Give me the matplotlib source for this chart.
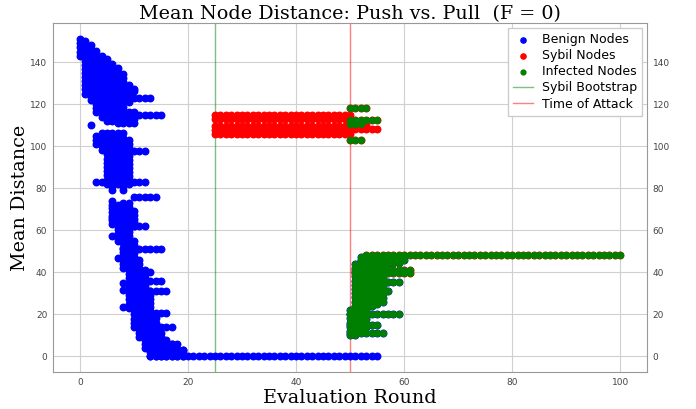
import matplotlib
matplotlib.use("Agg")
import matplotlib.pyplot as plt
import numpy as np

# benign nodes: dense vertical stacks (round, low, high), flat rows (y, first, last), single dots
benign_cols = [
    (0, 143, 151), (1, 127, 150), (2, 127, 148), (2, 122, 125),
    (3, 116, 145.5), (3, 101, 105), (4, 114, 143), (4, 98, 106),
    (5, 112, 141.5), (5, 82, 106), (6, 112, 139), (6, 79, 106), (6, 63, 74),
    (7, 111, 137), (7, 82, 106), (7, 55, 72),
    (8, 111, 134.5), (8, 79, 106), (8, 42, 73),
    (9, 125, 129), (9, 121, 123), (9, 111, 116), (9, 82, 103), (9, 23, 73),
    (10, 126, 127), (10, 111, 116), (10, 62, 69), (10, 14, 55),
    (11, 9, 46), (12, 4, 41), (13, 0, 31), (14, 0, 20), (15, 0, 11),
    (16, 0, 7.6), (17, 0, 6), (18, 0, 3.6), (19, 0, 3),
]
benign_rows = [
    (123, 8, 13), (115, 10, 15), (97.5, 9, 12), (83, 9, 12), (75.8, 10, 14),
    (62, 9, 12), (51, 8, 15), (40, 10, 13), (35.7, 10, 15), (31, 11, 16),
    (20.5, 13, 16), (14, 14, 17), (5.7, 15, 18), (3, 17, 19), (0, 13, 55),
]
benign_dots = [(1, 125), (2, 110), (3, 83), (4, 83), (6, 57), (6, 66),
               (7, 46.5), (8, 35), (8, 31.6), (8, 23.5)]

# sybil nodes
sybil_rows = [
    (115, 25, 50), (113, 25, 50), (109.5, 25, 50), (107.6, 25, 50), (105.7, 25, 50),
    (108, 51, 55), (110, 51, 53), (48, 53, 100), (41, 51, 61), (39.5, 51, 61),
]

# infected nodes
infected_upper = [(118, 50, 53), (112.5, 50, 55), (110.5, 50, 52), (103, 50, 52)]
infected_top = [(48, 53, 100), (41, 51, 61), (39.5, 51, 61)]
infected_rows = [
    (46, 52, 60), (44.5, 52, 59), (35.5, 52, 59), (31, 53, 57),
    (20, 50, 59), (15, 50, 55), (11, 50, 56),
]
infected_cols = [(50, 10, 22), (51, 10, 44), (52, 12, 47), (53, 14, 47),
                 (54, 24, 47), (55, 25, 47), (56, 26, 45)]

bootstrap_round = 25
attack_round = 50


def cols_xy(cols):
    xs, ys = [], []
    for r, lo, hi in cols:
        n = int(np.ceil((hi - lo) / 2.0)) + 1
        v = np.linspace(lo, hi, n)
        xs += [r] * len(v)
        ys += list(v)
    return xs, ys


def rows_xy(rows):
    xs, ys = [], []
    for y, a, b in rows:
        r = list(range(a, b + 1))
        xs += r
        ys += [y] * len(r)
    return xs, ys


def dots_xy(dots):
    return [d[0] for d in dots], [d[1] for d in dots]


def join(*parts):
    xs, ys = [], []
    for px, py in parts:
        xs += list(px)
        ys += list(py)
    return np.array(xs), np.array(ys)


bx, by = join(cols_xy(benign_cols), rows_xy(benign_rows), dots_xy(benign_dots))
ux, uy = join(cols_xy(infected_cols), rows_xy(infected_rows))   # benign under the infected cluster
sx, sy = join(rows_xy(sybil_rows), rows_xy(infected_upper))
ix, iy = join(rows_xy(infected_upper), rows_xy(infected_top),
              rows_xy(infected_rows), cols_xy(infected_cols))

plt.rcParams['font.family'] = 'DejaVu Sans'
fig = plt.figure(figsize=(6.96, 4.09), dpi=100)
ax = fig.add_axes([0.076, 0.0905, 0.854, 0.853])

ms = 22
ax.scatter(bx, by, s=ms, color='blue', label='Benign Nodes', zorder=3)
ax.scatter(ux, uy, s=ms, color='blue', zorder=3)
ax.scatter(sx, sy, s=ms, color='red', label='Sybil Nodes', zorder=4)
ax.scatter(ix, iy, s=ms * 0.85, color='green', label='Infected Nodes', zorder=5)
ax.axvline(bootstrap_round, color='green', lw=1, alpha=0.5, label='Sybil Bootstrap', zorder=2)
ax.axvline(attack_round, color='red', lw=1, alpha=0.5, label='Time of Attack', zorder=2)

ax.set_xticks(range(0, 101, 20))
ax.set_yticks(range(0, 141, 20))
ax.grid(True, color='#d0d0d0', lw=0.8)
ax.set_axisbelow(True)
for s in ax.spines.values():
    s.set_color('#999999')
    s.set_linewidth(0.8)
ax.tick_params(labelsize=6.5, labelcolor='#444444', length=0, labelright=True, pad=4)

ax.set_title('Mean Node Distance: Push vs. Pull  (F = 0)', family='DejaVu Serif', fontsize=13.8, pad=3)
ax.set_xlabel('Evaluation Round', family='DejaVu Serif', fontsize=13.8, labelpad=2)
ax.set_ylabel('Mean Distance', family='DejaVu Serif', fontsize=13.8, labelpad=1)

ax.legend(loc='upper right', fontsize=9, markerscale=0.8, handlelength=1.6,
          handletextpad=0.7, framealpha=1, edgecolor='#cccccc', fancybox=False,
          borderpad=0.4, labelspacing=0.25, borderaxespad=0.4)

fig.savefig('out.png', dpi=100)
